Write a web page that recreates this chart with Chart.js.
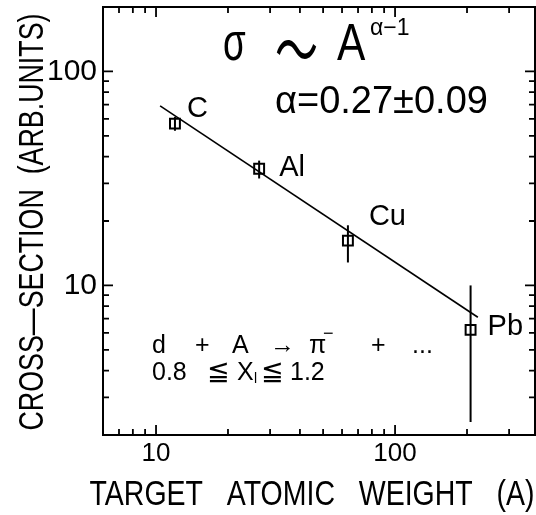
<!DOCTYPE html>
<html>
<head>
<meta charset="utf-8">
<script src="https://cdn.jsdelivr.net/npm/chart.js@4.4.1/dist/chart.umd.min.js"></script>
<style>
  html, body { margin: 0; padding: 0; background: #fff; }
  #wrap { width: 536px; height: 515px; position: relative; }
</style>
</head>
<body>
<div id="wrap"><canvas id="xsec"></canvas></div>
<script>
// data
const elements = ['C', 'Al', 'Cu', 'Pb'];
const atomicWeight = [12, 27, 63.5, 207];
const crossSection = [57, 35.1, 16.2, 6.2];
const errLow = [52.8, 31.6, 12.8, 2.3];
const errHigh = [61.3, 38.3, 19.1, 10];
// fitted power law, end points
const fitA = [10.4, 222];
const fitSigma = [69, 7.1];
const xTickLabels = [10, 100];
const yTickLabels = [10, 100];

const FONT = '"Liberation Sans", Arial, sans-serif';
const SYM = '"DejaVu Sans", sans-serif';
const WAVE = '"Noto Sans CJK JP", "DejaVu Sans", sans-serif';

function isLabel(v, list) {
    return list.some(t => Math.abs(v - t) < 1e-6 * t);
}

function text(ctx, s, px, py, size, family, align) {
    ctx.font = size + 'px ' + (family || FONT);
    ctx.textAlign = align || 'left';
    ctx.textBaseline = 'alphabetic';
    ctx.fillText(s, px, py);
}

const decor = {
    id: 'decor',
    beforeDatasetsDraw(chart) {
        const { ctx, scales: { x, y } } = chart;
        ctx.save();
        ctx.strokeStyle = '#000';
        ctx.lineWidth = 2;
        atomicWeight.forEach((A, i) => {
            const px = x.getPixelForValue(A);
            ctx.beginPath();
            ctx.moveTo(px, y.getPixelForValue(errLow[i]));
            ctx.lineTo(px, y.getPixelForValue(errHigh[i]));
            ctx.stroke();
        });
        ctx.restore();
    },
    afterDatasetsDraw(chart) {
        const { ctx, chartArea: a, scales: { x, y } } = chart;
        ctx.save();
        ctx.strokeStyle = '#000';
        ctx.fillStyle = '#000';
        ctx.lineWidth = 2;
        ctx.strokeRect(a.left, a.top, a.right - a.left, a.bottom - a.top);

        // inward ticks on all four sides
        ctx.lineWidth = 1.8;
        const tickInfo = (v) => {
            const sig = v / Math.pow(10, Math.floor(Math.log10(v) + 1e-9));
            if (Math.abs(sig - Math.round(sig)) > 1e-6) return null;
            return Math.round(sig) === 1 ? 10 : 6;
        };
        x.ticks.forEach(t => {
            const len = tickInfo(t.value);
            if (!len || t.value < x.min || t.value > x.max) return;
            const px = x.getPixelForValue(t.value);
            ctx.beginPath();
            ctx.moveTo(px, a.bottom); ctx.lineTo(px, a.bottom - len);
            ctx.moveTo(px, a.top); ctx.lineTo(px, a.top + len);
            ctx.stroke();
        });
        y.ticks.forEach(t => {
            const len = tickInfo(t.value);
            if (!len || t.value < y.min || t.value > y.max) return;
            const py = y.getPixelForValue(t.value);
            ctx.beginPath();
            ctx.moveTo(a.left, py); ctx.lineTo(a.left + len, py);
            ctx.moveTo(a.right, py); ctx.lineTo(a.right - len, py);
            ctx.stroke();
        });

        // element labels next to their points
        const offs = [[12, -7], [20, 7], [21, -16], [17, 5]];
        elements.forEach((el, i) => {
            const px = x.getPixelForValue(atomicWeight[i]);
            const py = y.getPixelForValue(crossSection[i]);
            text(ctx, el, px + offs[i][0], py + offs[i][1], 29);
        });

        // formula
        const L = a.left, T = a.top;
        ctx.save();
        ctx.translate(L + 120, T + 53);
        ctx.scale(0.8, 1.15);
        text(ctx, 'σ', 0, 0, 46);
        ctx.restore();
        ctx.save();
        ctx.translate(L + 172, T + 43);
        ctx.scale(1.0, 1.6);
        ctx.font = '43px ' + WAVE;
        ctx.textAlign = 'left';
        ctx.textBaseline = 'middle';
        ctx.fillText('〜', 0, 0);
        ctx.restore();
        ctx.save();
        ctx.translate(L + 234, T + 53);
        ctx.scale(0.85, 1.05);
        text(ctx, 'A', 0, 0, 50);
        ctx.restore();
        text(ctx, 'α−1', L + 267, T + 28, 23);
        text(ctx, 'α=0.27±0.09', L + 172, T + 106, 38);

        // reaction
        const B = a.bottom;
        const r1 = [['d', 49], ['+', 92], ['A', 129], ['→', 167], ['π', 206], ['+', 268], ['...', 309]];
        r1.forEach(([s, dx]) => text(ctx, s, L + dx, B - 82, 25));
        text(ctx, '−', L + 220, B - 96, 18);
        const r2 = [['0.8', 49], ['X', 134], ['1.2', 187]];
        r2.forEach(([s, dx]) => text(ctx, s, L + dx, B - 55, 25));
        text(ctx, '≦', L + 104, B - 55, 27, SYM);
        text(ctx, '≦', L + 158, B - 55, 27, SYM);
        text(ctx, 'l', L + 151, B - 52, 14);
        ctx.restore();
    },
    afterDraw(chart) {
        const { ctx } = chart;
        ctx.save();
        ctx.fillStyle = '#000';
        // x title, compressed to the printed width
        ctx.font = '35px ' + FONT;
        ctx.textAlign = 'center';
        ctx.textBaseline = 'alphabetic';
        let s = 'TARGET   ATOMIC   WEIGHT   (A)';
        let w = ctx.measureText(s).width;
        ctx.translate(312, 505);
        ctx.scale(445 / w, 1);
        ctx.fillText(s, 0, 0);
        ctx.restore();

        ctx.save();
        ctx.fillStyle = '#000';
        ctx.font = '35px ' + FONT;
        ctx.textAlign = 'center';
        s = 'CROSS—SECTION  (ARB.UNITS)';
        w = ctx.measureText(s).width;
        ctx.translate(43, 222);
        ctx.rotate(-Math.PI / 2);
        ctx.scale(417 / w, 1);
        ctx.fillText(s, 0, 0);
        ctx.restore();
    }
};

new Chart(document.getElementById('xsec'), {
    type: 'scatter',
    data: {
        datasets: [
            {
                label: 'data',
                data: atomicWeight.map((A, i) => ({ x: A, y: crossSection[i] })),
                pointStyle: 'rect',
                pointRadius: 7,
                borderWidth: 2,
                borderColor: '#000',
                backgroundColor: 'rgba(0,0,0,0)'
            },
            {
                label: 'fit',
                data: fitA.map((A, i) => ({ x: A, y: fitSigma[i] })),
                showLine: true,
                borderColor: '#000',
                borderWidth: 1.6,
                pointRadius: 0
            }
        ]
    },
    options: {
        responsive: true,
        maintainAspectRatio: false,
        animation: false,
        layout: { autoPadding: false, padding: { top: 7, right: 1, left: 0, bottom: 0 } },
        plugins: { legend: { display: false }, tooltip: { enabled: false } },
        scales: {
            x: {
                type: 'logarithmic',
                min: 6,
                max: 385,
                grid: { display: false, drawTicks: false },
                border: { display: false },
                ticks: {
                    autoSkip: false,
                    maxRotation: 0,
                    padding: 3,
                    color: '#000',
                    font: { family: FONT, size: 26 },
                    callback: v => isLabel(v, xTickLabels) ? String(Math.round(v)) : ''
                },
                afterFit: s => {
                    s.height = 80;
                    s.paddingLeft = 0;
                    s.paddingRight = 0;
                }
            },
            y: {
                type: 'logarithmic',
                min: 2,
                max: 200,
                grid: { display: false, drawTicks: false },
                border: { display: false },
                ticks: {
                    autoSkip: false,
                    padding: 6,
                    color: '#000',
                    font: { family: FONT, size: 30 },
                    callback: v => isLabel(v, yTickLabels) ? String(Math.round(v)) : ''
                },
                afterFit: s => {
                    s.width = 103;
                    s.paddingTop = 0;
                    s.paddingBottom = 0;
                }
            }
        }
    },
    plugins: [decor]
});
</script>
</body>
</html>
